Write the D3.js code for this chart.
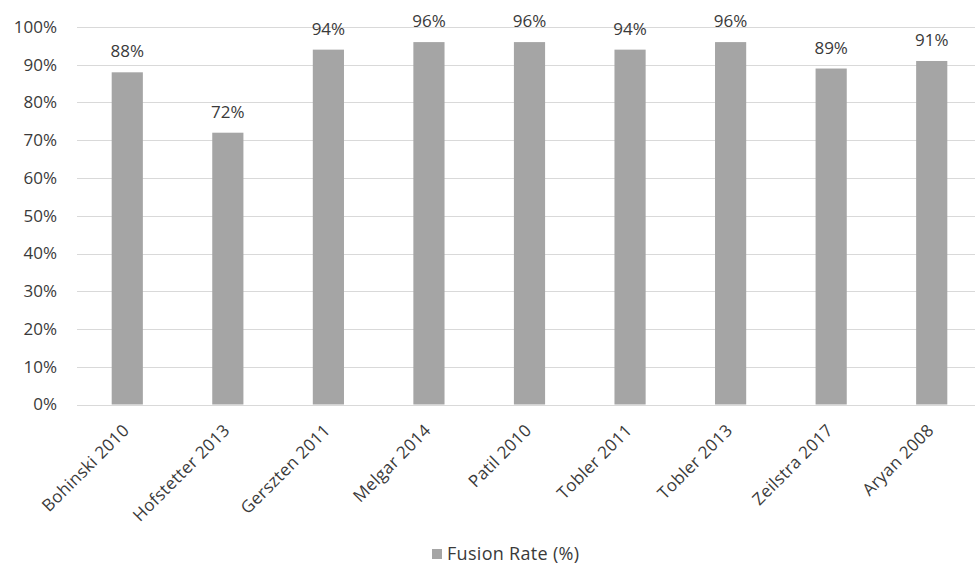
<!DOCTYPE html>
<html>
<head>
<meta charset="utf-8">
<script src="https://cdn.jsdelivr.net/npm/d3@7"></script>
<style>
  html, body { margin: 0; padding: 0; background: #fff; }
  svg text { font-family: "Open Sans", "Noto Sans", sans-serif; fill: #3a3a3a; }
</style>
</head>
<body>
<svg id="chart" width="975" height="568"></svg>
<script>
// Fusion rate per study
const studies = ["Bohinski 2010", "Hofstetter 2013", "Gerszten 2011", "Melgar 2014", "Patil 2010", "Tobler 2011", "Tobler 2013", "Zeilstra 2017", "Aryan 2008"];
const fusionRate = [88, 72, 94, 96, 96, 94, 96, 89, 91];
const yTicks = [0, 10, 20, 30, 40, 50, 60, 70, 80, 90, 100];
const seriesName = "Fusion Rate (%)";

const svg = d3.select("#chart");
const margin = { left: 77, top: 27 };
const plotRight = 982;
const fontSize = "17px";

const x = d3.scaleBand()
  .domain(studies)
  .range([margin.left, plotRight])
  .paddingInner(0.69)
  .paddingOuter(0.345);

const y = d3.scaleLinear()
  .domain([0, 100])
  .range([404.5, margin.top]);

// horizontal gridlines
svg.append("g")
  .selectAll("line")
  .data(yTicks)
  .join("line")
  .attr("x1", margin.left)
  .attr("x2", plotRight)
  .attr("y1", d => Math.round(y(d)) + 0.5)
  .attr("y2", d => Math.round(y(d)) + 0.5)
  .attr("stroke", "#d9d9d9")
  .attr("stroke-width", 1.2);

// y-axis labels
const yAxis = d3.axisLeft(y)
  .tickValues(yTicks)
  .tickSize(0)
  .tickPadding(0)
  .tickFormat(d => d + "%");
svg.append("g")
  .attr("transform", "translate(57,0)")
  .call(yAxis)
  .call(g => g.select(".domain").remove())
  .selectAll("text")
  .style("font-size", fontSize)
  .style("font-family", "'Open Sans', sans-serif")
  .attr("fill", "#3a3a3a");

// bars
svg.append("g")
  .selectAll("rect")
  .data(studies)
  .join("rect")
  .attr("x", d => x(d))
  .attr("width", x.bandwidth())
  .attr("y", (d, i) => y(fusionRate[i]))
  .attr("height", (d, i) => y(0) - y(fusionRate[i]))
  .attr("fill", "#a5a5a5");

// value labels
svg.append("g")
  .selectAll("text")
  .data(studies)
  .join("text")
  .attr("x", d => x(d) + x.bandwidth() / 2)
  .attr("y", (d, i) => y(fusionRate[i]) - 15)
  .attr("text-anchor", "middle")
  .style("font-size", fontSize)
  .text((d, i) => fusionRate[i] + "%");

// rotated category labels
const xAxis = d3.axisBottom(x).tickSize(0).tickPadding(0);
svg.append("g")
  .attr("transform", `translate(0,${y(0)})`)
  .call(xAxis)
  .call(g => g.select(".domain").remove())
  .selectAll("text")
  .style("font-size", fontSize)
  .style("font-family", "'Open Sans', sans-serif")
  .style("letter-spacing", "0.3px")
  .attr("fill", "#3a3a3a")
  .attr("text-anchor", "end")
  .attr("dy", null)
  .attr("transform", "translate(3,27) rotate(-45)");

// legend
const legend = svg.append("g").attr("transform", "translate(432,549)");
legend.append("rect")
  .attr("width", 10).attr("height", 10)
  .attr("fill", "#a5a5a5");
legend.append("text")
  .attr("x", 15).attr("y", 11)
  .style("font-size", "18px")
  .style("letter-spacing", "0.3px")
  .text(seriesName);
</script>
</body>
</html>
